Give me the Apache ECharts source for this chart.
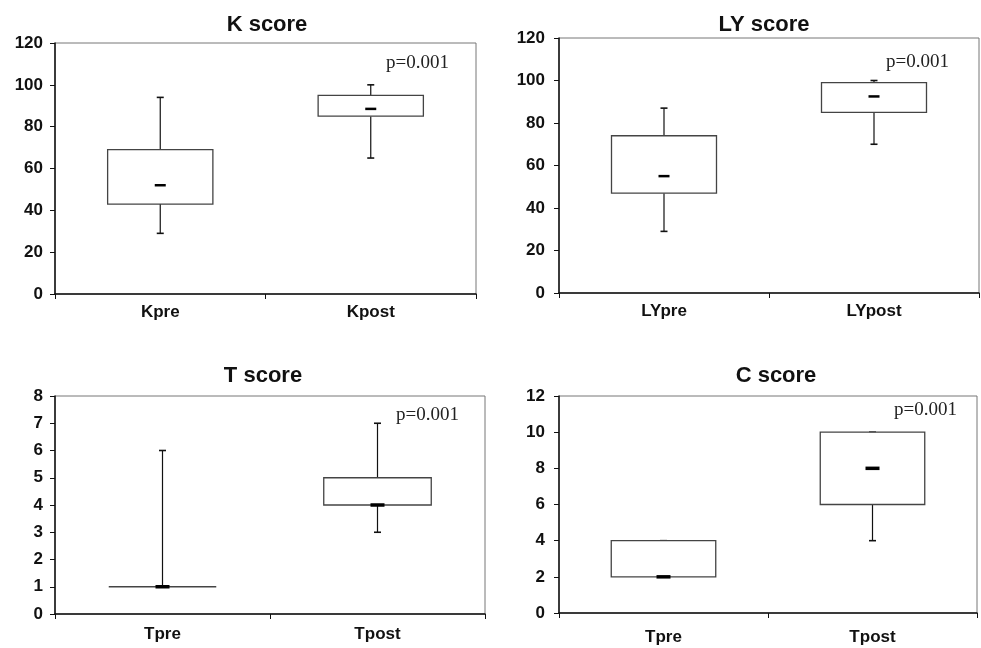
<!DOCTYPE html>
<html>
<head>
    <meta charset="utf-8" />
    <title>Score box plots</title>
    <script src="https://cdn.jsdelivr.net/npm/echarts@6/dist/echarts.min.js"></script>
    <style>
        html, body { margin: 0; padding: 0; background: #fff; }
        #chart { width: 981px; height: 648px; }
    </style>
</head>
<body>
    <div id="chart"></div>
    <script type="text/javascript">

        // [low whisker, Q1, median, Q3, high whisker]
        var kCats = ['Kpre', 'Kpost'];
        var kScore = [[29, 43, 52, 69, 94], [65, 85, 88.5, 95, 100]];

        var lyCats = ['LYpre', 'LYpost'];
        var lyScore = [[29, 47, 55, 74, 87], [70, 85, 92.5, 99, 100]];

        var tCats = ['Tpre', 'Tpost'];
        var tScore = [[1, 1, 1, 1, 6], [3, 4, 4, 5, 7]];

        var cCats = ['Tpre', 'Tpost'];
        var cScore = [[2, 2, 2, 4, 4], [4, 6, 8, 10, 10]];

        var titles = ['K score', 'LY score', 'T score', 'C score'];
        var pText = 'p=0.001';

        var sans = '"Liberation Sans", Arial, sans-serif';
        var serif = '"Liberation Serif", "Times New Roman", serif';

        var panels = [
            { cats: kCats, data: kScore, max: 120, interval: 20, grid: { left: 55, top: 43, width: 421, height: 251 }, tx: 262, ty: 9, px: 386, py: 64, xm: 10, ym: 12, thick: 2.5, dash: 11 },
            { cats: lyCats, data: lyScore, max: 120, interval: 20, grid: { left: 559, top: 38, width: 420, height: 255 }, tx: 759, ty: 9, px: 886, py: 63, xm: 10, ym: 14, thick: 2.5, dash: 11 },
            { cats: tCats, data: tScore, max: 8, interval: 1, grid: { left: 55, top: 396, width: 430, height: 218 }, tx: 258, ty: 360, px: 396, py: 416, xm: 12, ym: 12, thick: 3.5, dash: 14 },
            { cats: cCats, data: cScore, max: 12, interval: 2, grid: { left: 559, top: 396, width: 418, height: 217 }, tx: 771, ty: 360, px: 894, py: 411, xm: 16, ym: 14, thick: 3.5, dash: 14 }
        ];

        function makeRender(thick, dash) {
            return function (params, api) {
                var cat = api.value(0);
                var lo = api.coord([cat, api.value(1)]);
                var q1 = api.coord([cat, api.value(2)]);
                var md = api.coord([cat, api.value(3)]);
                var q3 = api.coord([cat, api.value(4)]);
                var hi = api.coord([cat, api.value(5)]);
                var bw = api.size([1, 0])[0] * 0.5;
                var x = lo[0];
                var cap = 3.5;
                var wStyle = { stroke: '#111', lineWidth: 1.2 };
                return {
                    type: 'group',
                    children: [
                        { type: 'line', shape: { x1: x, y1: q3[1], x2: x, y2: hi[1] }, style: wStyle },
                        { type: 'line', shape: { x1: x, y1: q1[1], x2: x, y2: lo[1] }, style: wStyle },
                        { type: 'line', shape: { x1: x - cap, y1: hi[1], x2: x + cap, y2: hi[1] }, style: { stroke: '#111', lineWidth: 1.6 } },
                        { type: 'line', shape: { x1: x - cap, y1: lo[1], x2: x + cap, y2: lo[1] }, style: { stroke: '#111', lineWidth: 1.6 } },
                        { type: 'rect', shape: { x: x - bw / 2, y: q3[1], width: bw, height: q1[1] - q3[1] },
                          style: { fill: '#fff', stroke: '#444', lineWidth: 1.3 } },
                        { type: 'line', shape: { x1: x - dash / 2, y1: md[1], x2: x + dash / 2, y2: md[1] },
                          style: { stroke: '#000', lineWidth: thick } }
                    ]
                };
            };
        }

        var option = {
            animation: false,
            backgroundColor: '#fff',
            title: [],
            grid: [],
            xAxis: [],
            yAxis: [],
            series: [],
            graphic: []
        };

        panels.forEach(function (p, i) {
            option.title.push({
                text: titles[i],
                left: p.tx,
                top: p.ty,
                textAlign: 'center',
                textStyle: { fontFamily: sans, fontWeight: 'bold', fontSize: 22, color: '#111' }
            });
            option.grid.push({
                left: p.grid.left, top: p.grid.top, width: p.grid.width, height: p.grid.height,
                show: true, borderColor: '#777', borderWidth: 1, backgroundColor: '#fff'
            });
            option.xAxis.push({
                type: 'category',
                gridIndex: i,
                data: p.cats,
                boundaryGap: true,
                axisLine: { lineStyle: { color: '#111', width: 1.5 } },
                axisTick: { show: true, length: 5, lineStyle: { color: '#111' } },
                axisLabel: { margin: p.xm, fontFamily: sans, fontWeight: 'bold', fontSize: 17, color: '#111' },
                splitLine: { show: false }
            });
            option.yAxis.push({
                type: 'value',
                gridIndex: i,
                min: 0,
                max: p.max,
                interval: p.interval,
                axisLine: { show: true, lineStyle: { color: '#111', width: 1.5 } },
                axisTick: { show: true, length: 5, lineStyle: { color: '#111' } },
                axisLabel: { margin: p.ym, fontFamily: sans, fontWeight: 'bold', fontSize: 17, color: '#111' },
                splitLine: { show: false }
            });
            option.series.push({
                type: 'custom',
                xAxisIndex: i,
                yAxisIndex: i,
                renderItem: makeRender(p.thick, p.dash),
                encode: { x: 0, y: [1, 2, 3, 4, 5] },
                data: p.data.map(function (v, k) { return [k].concat(v); }),
                z: 3
            });
            option.graphic.push({
                type: 'text',
                left: p.px,
                top: p.py - 10,
                style: { text: pText, fontFamily: serif, fontSize: 19, fill: '#222' }
            });
        });

        var chart = echarts.init(document.getElementById('chart'));
        chart.setOption(option);
    </script>
</body>
</html>
